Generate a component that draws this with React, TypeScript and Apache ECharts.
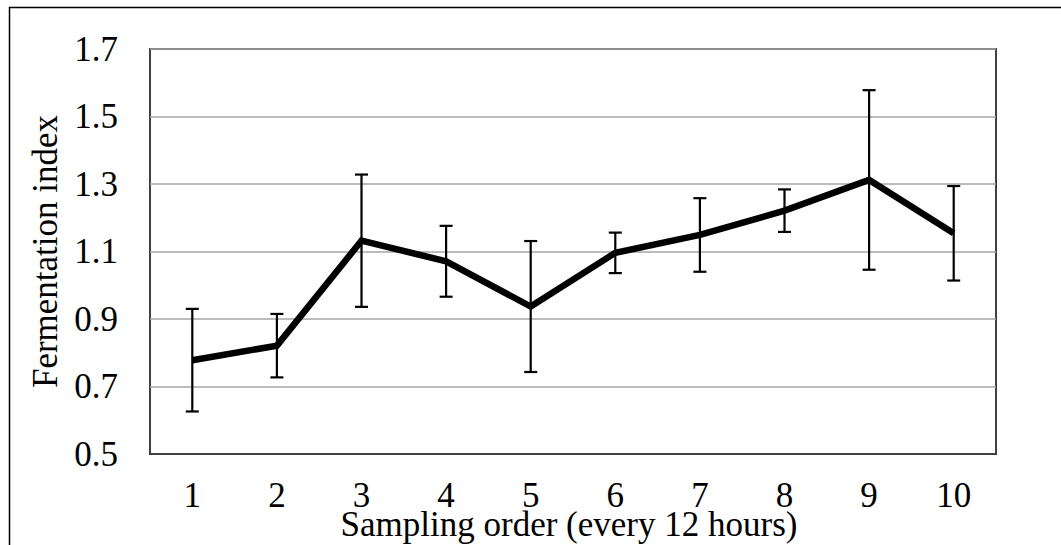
import React, { useEffect, useRef } from "react";
import * as echarts from "echarts";

const categories = ["1", "2", "3", "4", "5", "6", "7", "8", "9", "10"];
const means = [0.778, 0.821, 1.132, 1.071, 0.937, 1.096, 1.149, 1.221, 1.312, 1.154];
const errors = [0.152, 0.094, 0.196, 0.105, 0.194, 0.06, 0.109, 0.063, 0.266, 0.14];
const yMin = 0.5;
const yMax = 1.7;
const yStep = 0.2;
const xTitle = "Sampling order (every 12 hours)";
const yTitle = "Fermentation index";

const FONT = "'Liberation Serif', 'Times New Roman', serif";

export default function App() {
  const ref = useRef<HTMLDivElement>(null);
  useEffect(() => {
    if (!ref.current) return;
    const chart = echarts.init(ref.current, undefined, { renderer: "svg" });
    const errData = means.map((m, i) => [i, m - errors[i], m + errors[i]]);
    chart.setOption({
      animation: false,
      backgroundColor: "#ffffff",
      grid: {
        left: 150,
        right: 65,
        top: 49,
        bottom: 91,
        containLabel: false,
        outerBoundsMode: "none",
        show: true,
        borderColor: "#404040",
        borderWidth: 2,
        backgroundColor: "transparent",
      },
      xAxis: {
        type: "category",
        data: categories,
        boundaryGap: true,
        axisLine: { show: true, lineStyle: { color: "#404040", width: 2 } },
        axisTick: { show: false },
        axisLabel: { color: "#000", fontFamily: FONT, fontSize: 35, lineHeight: 26, margin: 28.5 },
      },
      yAxis: {
        type: "value",
        min: yMin,
        max: yMax,
        interval: yStep,
        axisLine: { show: false },
        axisTick: { show: false },
        splitLine: { show: true, lineStyle: { color: "#a6a6a6", width: 1.5 } },
        axisLabel: {
          color: "#000",
          fontFamily: FONT,
          fontSize: 35,
          margin: 32,
          formatter: (v: number) => v.toFixed(1),
        },
        name: yTitle,
        nameLocation: "middle",
        nameGap: 84,
        nameTextStyle: { color: "#000", fontFamily: FONT, fontSize: 35 },
      },
      series: [
        {
          type: "custom",
          data: errData,
          z: 2,
          renderItem: (params: any, api: any) => {
            const x = api.value(0);
            const lo = api.coord([x, api.value(1)]);
            const hi = api.coord([x, api.value(2)]);
            const hw = 6.5;
            const style = { stroke: "#000", lineWidth: 2.2 };
            return {
              type: "group",
              children: [
                { type: "line", shape: { x1: lo[0], y1: lo[1], x2: hi[0], y2: hi[1] }, style },
                { type: "line", shape: { x1: lo[0] - hw, y1: lo[1], x2: lo[0] + hw, y2: lo[1] }, style },
                { type: "line", shape: { x1: hi[0] - hw, y1: hi[1], x2: hi[0] + hw, y2: hi[1] }, style },
              ],
            };
          },
        },
        {
          type: "line",
          data: means,
          z: 3,
          showSymbol: false,
          symbol: "none",
          lineStyle: { color: "#000", width: 6.5, join: "miter" },
        },
      ],
      graphic: [
        { type: "line", shape: { x1: 9, y1: 7.5, x2: 1061, y2: 7.5 }, style: { stroke: "#000", lineWidth: 1.5 } },
        { type: "line", shape: { x1: 9.5, y1: 7, x2: 9.5, y2: 545 }, style: { stroke: "#000", lineWidth: 1.5 } },
        {
          type: "text",
          x: 569,
          y: 524,
          style: {
            text: xTitle,
            fill: "#000",
            font: `35px ${FONT}`,
            lineHeight: 26,
            textAlign: "center",
            textVerticalAlign: "middle",
          },
        },
      ],
    });
    return () => chart.dispose();
  }, []);
  return (
    <div
      ref={ref}
      style={{ position: "fixed", left: 0, top: 0, width: 1061, height: 545 }}
    />
  );
}
